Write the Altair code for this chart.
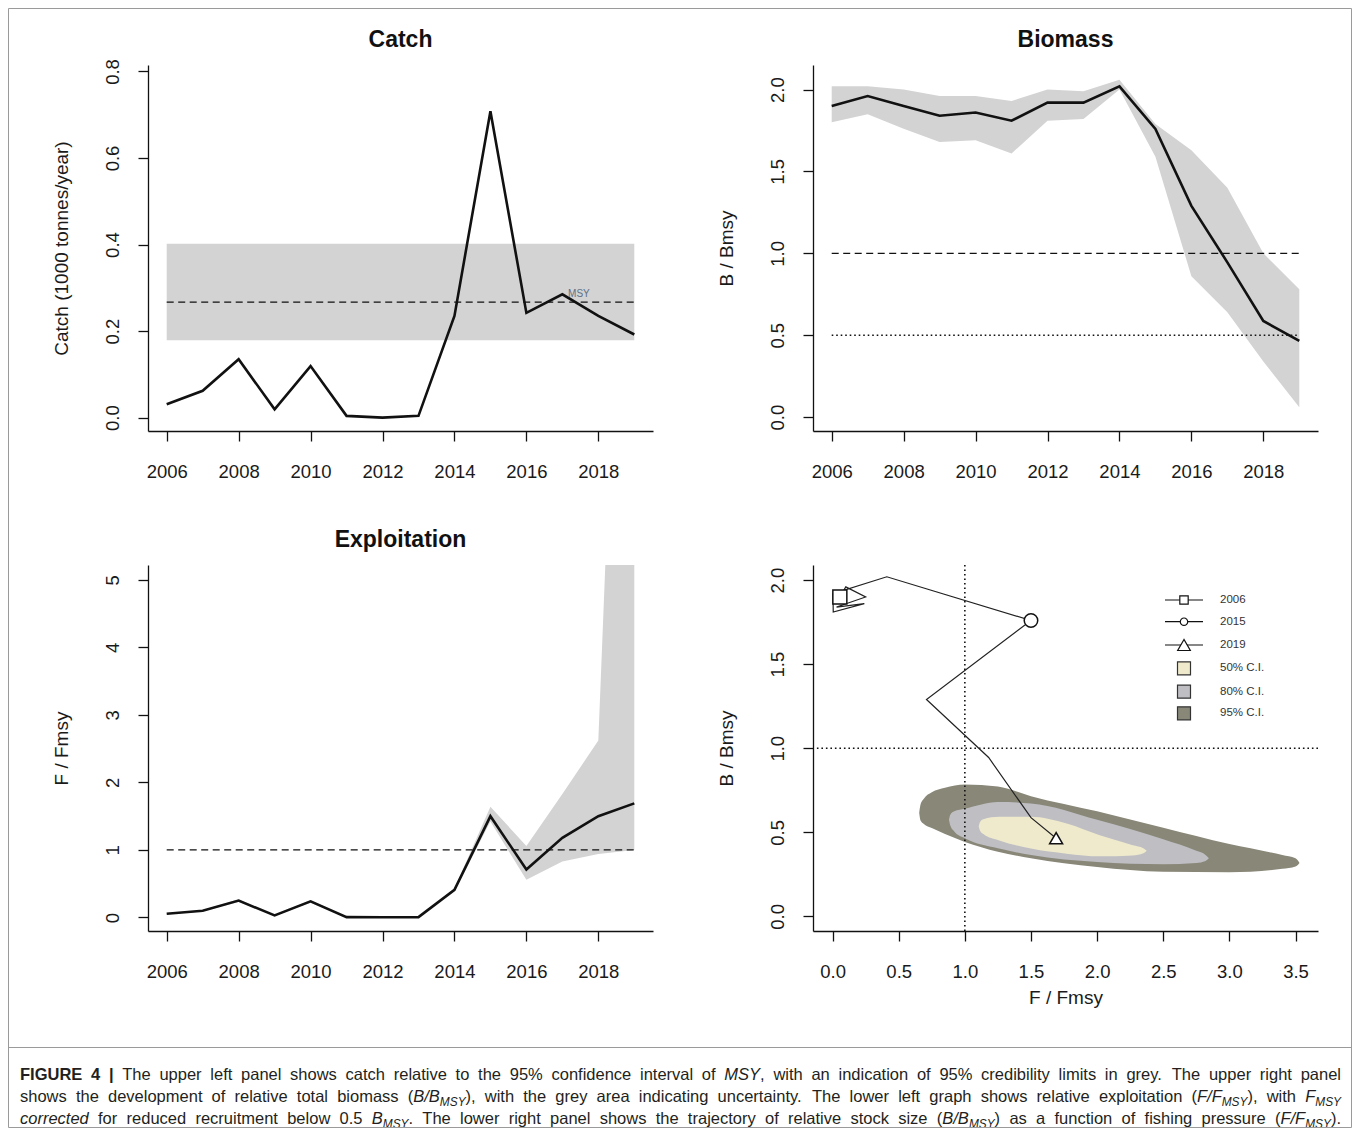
import altair as alt
import pandas as pd

# ---------------- data ----------------
years = [2006, 2007, 2008, 2009, 2010, 2011, 2012, 2013, 2014, 2015, 2016, 2017, 2018, 2019]
catch = [0.031, 0.062, 0.135, 0.019, 0.119, 0.004, 0.0, 0.004, 0.235, 0.708, 0.242, 0.285, 0.235, 0.192]
catch_msy = 0.267
catch_msy_lo = 0.179
catch_msy_hi = 0.402

bbmsy = [1.90, 1.96, 1.90, 1.84, 1.86, 1.81, 1.92, 1.92, 2.02, 1.76, 1.29, 0.945, 0.587, 0.465]
bbmsy_lo = [1.80, 1.85, 1.76, 1.68, 1.69, 1.61, 1.81, 1.82, 2.00, 1.59, 0.86, 0.64, 0.34, 0.06]
bbmsy_hi = [2.02, 2.02, 2.00, 1.96, 1.96, 1.93, 2.00, 1.99, 2.06, 1.79, 1.63, 1.40, 1.00, 0.78]

ffmsy = [0.055, 0.10, 0.25, 0.03, 0.24, 0.005, 0.003, 0.005, 0.41, 1.50, 0.71, 1.18, 1.50, 1.69]
ffmsy_lo = [0.05, 0.09, 0.23, 0.027, 0.22, 0.004, 0.002, 0.004, 0.39, 1.42, 0.56, 0.83, 0.94, 1.00]
ffmsy_hi = [0.06, 0.11, 0.27, 0.035, 0.26, 0.006, 0.004, 0.006, 0.43, 1.64, 1.06, 1.83, 2.62, 16.0]

ci95_f = [0.655, 0.665, 0.69, 0.75, 0.85, 1.0, 1.25, 1.5, 2.0, 2.5, 3.0, 3.4, 3.50, 3.53]
ci95_up = [0.615, 0.665, 0.70, 0.738, 0.765, 0.785, 0.772, 0.715, 0.625, 0.527, 0.43, 0.365, 0.345, 0.318]
ci95_lo = [0.615, 0.57, 0.55, 0.525, 0.49, 0.443, 0.385, 0.345, 0.293, 0.265, 0.263, 0.283, 0.297, 0.318]

ci80_f = [0.88, 0.89, 0.92, 1.0, 1.25, 1.5, 2.0, 2.5, 2.75, 2.82, 2.845]
ci80_up = [0.575, 0.605, 0.625, 0.64, 0.68, 0.672, 0.575, 0.458, 0.39, 0.365, 0.345]
ci80_lo = [0.575, 0.54, 0.505, 0.465, 0.405, 0.365, 0.323, 0.31, 0.318, 0.33, 0.345]

ci50_f = [1.105, 1.115, 1.14, 1.26, 1.5, 1.77, 2.02, 2.27, 2.35, 2.375]
ci50_up = [0.535, 0.562, 0.578, 0.592, 0.592, 0.552, 0.482, 0.423, 0.405, 0.39]
ci50_lo = [0.535, 0.51, 0.49, 0.452, 0.403, 0.373, 0.357, 0.362, 0.375, 0.39]

marker_years = ["2006", "2015", "2019"]
ci_labels = ["50% C.I.", "80% C.I.", "95% C.I."]
panel_titles = ["Catch", "Biomass", "Exploitation"]

year_ticks = [2006, 2008, 2010, 2012, 2014, 2016, 2018]
catch_ticks = [0.0, 0.2, 0.4, 0.6, 0.8]
bio_ticks = [0.0, 0.5, 1.0, 1.5, 2.0]
f_ticks = [0, 1, 2, 3, 4, 5]
kobe_x_ticks = [0.0, 0.5, 1.0, 1.5, 2.0, 2.5, 3.0, 3.5]
kobe_y_ticks = [0.0, 0.5, 1.0, 1.5, 2.0]

caption_lines = [
    [("FIGURE 4 |", "bold"),
     (" The upper left panel shows catch relative to the 95% confidence interval of ", "reg"),
     ("MSY", "ital"),
     (", with an indication of 95% credibility limits in grey. The upper right panel", "reg")],
    [("shows the development of relative total biomass (", "reg"), ("B/B", "ital"), ("MSY", "sub"),
     ("), with the grey area indicating uncertainty. The lower left graph shows relative exploitation (", "reg"),
     ("F/F", "ital"), ("MSY", "sub"), ("), with ", "reg"), ("F", "ital"), ("MSY", "sub")],
    [("corrected", "ital"), (" for reduced recruitment below 0.5 ", "reg"), ("B", "ital"), ("MSY", "sub"),
     (". The lower right panel shows the trajectory of relative stock size (", "reg"), ("B/B", "ital"), ("MSY", "sub"),
     (") as a function of fishing pressure (", "reg"), ("F/F", "ital"), ("MSY", "sub"), (").", "reg")],
]

# ---------------- layout / style ----------------
W, H = 505, 366
FONT = "Liberation Sans"
BLACK = "#111111"
BAND = "#d3d3d3"
CI_COLORS = ["#f0eacd", "#bebec3", "#898778"]
FRAME = "#9a9a9a"
XDOM = [2005.48, 2019.52]

CAP_LEFT, CAP_RIGHT = 20, 1341
caption_y = [1079.5, 1102, 1123.5]
SUB_SCALE = 0.72
KOBE_ORIGIN = (813, 565)
frame_box = (8.5, 8.5, 1351.5, 1127.5)   # page px (left, top, right, bottom)
caption_rule_y = 1047.5

# Arial / Liberation Sans advance widths (1/1000 em) used to lay out the caption
W_REG = {' ': 278, '%': 889, '(': 333, ')': 333, ',': 278, '-': 333, '.': 278, '/': 278, '|': 260,
         'A': 667, 'B': 667, 'C': 722, 'D': 722, 'E': 667, 'F': 611, 'G': 778, 'H': 722, 'I': 278, 'J': 500,
         'K': 667, 'L': 556, 'M': 833, 'N': 722, 'O': 778, 'P': 667, 'Q': 778, 'R': 722, 'S': 667, 'T': 611,
         'U': 722, 'V': 667, 'W': 944, 'X': 667, 'Y': 667, 'Z': 611,
         'a': 556, 'b': 556, 'c': 500, 'd': 556, 'e': 556, 'f': 278, 'g': 556, 'h': 556, 'i': 222, 'j': 222,
         'k': 500, 'l': 222, 'm': 833, 'n': 556, 'o': 556, 'p': 556, 'q': 556, 'r': 333, 's': 500, 't': 278,
         'u': 556, 'v': 500, 'w': 722, 'x': 500, 'y': 500, 'z': 500}
W_BOLD = {' ': 278, '|': 280, 'F': 611, 'I': 278, 'G': 778, 'U': 722, 'R': 722, 'E': 667}


def glyph_w(ch, sty):
    if sty == "bold":
        return W_BOLD.get(ch, 556) / 1000.0
    return W_REG.get(ch, 556) / 1000.0


XAX = dict(labelBaseline="middle", labelAlign="center", labelAngle=0, labelPadding=30)
YAX = dict(labelAngle=270, labelAlign="center", labelBaseline="middle", labelPadding=26,
           titleAngle=270, titleAlign="center", titleBaseline="middle", titleX=-87, titleY=H / 2)

ts = pd.DataFrame({
    "year": years, "catch": catch,
    "msy": [catch_msy] * len(years), "msy_lo": [catch_msy_lo] * len(years), "msy_hi": [catch_msy_hi] * len(years),
    "b": bbmsy, "b_lo": bbmsy_lo, "b_hi": bbmsy_hi,
    "f": ffmsy, "f_lo": ffmsy_lo, "f_hi": ffmsy_hi,
    "one": [1.0] * len(years), "half": [0.5] * len(years),
})
ts["yr"] = ts["year"].astype(str)
one = pd.DataFrame({"k": [0]})


def xyear():
    return alt.X("year:Q", scale=alt.Scale(domain=XDOM, nice=False, zero=False),
                 axis=alt.Axis(values=year_ticks, format="d", title=None, **XAX))


def yq(field, dom, ticks, fmt, title):
    return alt.Y(field, type="quantitative", scale=alt.Scale(domain=dom, nice=False, zero=False),
                 axis=alt.Axis(values=ticks, format=fmt, title=title, **YAX))


def title_layer(txt):
    return alt.Chart(one).mark_text(font=FONT, fontSize=23, fontWeight="bold", color=BLACK,
                                    align="center", baseline="middle").encode(
        x=alt.value(W / 2), y=alt.value(-25), text=alt.value(txt))


base = alt.Chart(ts)

# ---- Catch ----
CDOM = [-0.031, 0.815]
ytitle_c = "Catch (1000 tonnes/year)"
catch_chart = alt.layer(
    base.mark_area(color=BAND).encode(x=xyear(), y=yq("msy_lo", CDOM, catch_ticks, ".1f", ytitle_c), y2="msy_hi:Q"),
    base.mark_line(color=BLACK, strokeDash=[7, 4.5], strokeWidth=1.3).encode(
        x=xyear(), y=yq("msy", CDOM, catch_ticks, ".1f", ytitle_c)),
    base.mark_line(color=BLACK, strokeWidth=2.6).encode(x=xyear(), y=yq("catch", CDOM, catch_ticks, ".1f", ytitle_c)),
    alt.Chart(pd.DataFrame({"year": [2017.46], "v": [0.286], "t": ["MSY"]})).mark_text(
        font=FONT, fontSize=10, color="#5f6f86", align="center", baseline="middle").encode(
        x=xyear(), y=yq("v", CDOM, catch_ticks, ".1f", ytitle_c), text="t:N"),
    title_layer(panel_titles[0]),
).properties(width=W, height=H)

# ---- Biomass ----
BDOM = [-0.085, 2.15]
yt_b = "B / Bmsy"
bio_chart = alt.layer(
    base.mark_area(color=BAND).encode(x=xyear(), y=yq("b_lo", BDOM, bio_ticks, ".1f", yt_b), y2="b_hi:Q"),
    base.mark_line(color=BLACK, strokeDash=[7, 4.5], strokeWidth=1.3).encode(x=xyear(), y=yq("one", BDOM, bio_ticks, ".1f", yt_b)),
    base.mark_line(color=BLACK, strokeDash=[1.6, 2.9], strokeWidth=1.6).encode(x=xyear(), y=yq("half", BDOM, bio_ticks, ".1f", yt_b)),
    base.mark_line(color=BLACK, strokeWidth=2.6).encode(x=xyear(), y=yq("b", BDOM, bio_ticks, ".1f", yt_b)),
    title_layer(panel_titles[1]),
).properties(width=W, height=H)

# ---- Exploitation ----
FDOM = [-0.2, 5.22]
yt_f = "F / Fmsy"
f_chart = alt.layer(
    base.mark_area(color=BAND, clip=True).encode(x=xyear(), y=yq("f_lo", FDOM, f_ticks, "d", yt_f), y2="f_hi:Q"),
    base.mark_line(color=BLACK, strokeDash=[7, 4.5], strokeWidth=1.3).encode(x=xyear(), y=yq("one", FDOM, f_ticks, "d", yt_f)),
    base.mark_line(color=BLACK, strokeWidth=2.6).encode(x=xyear(), y=yq("f", FDOM, f_ticks, "d", yt_f)),
    title_layer(panel_titles[2]),
).properties(width=W, height=H)

# ---- Kobe ----
KX = [-0.148, 3.67]
KY = [-0.087, 2.09]


def kx(field="F"):
    return alt.X(field, type="quantitative", scale=alt.Scale(domain=KX, nice=False, zero=False),
                 axis=alt.Axis(values=kobe_x_ticks, format=".1f", title="F / Fmsy",
                               titleX=W / 2, titleY=66, titleBaseline="middle", titleAlign="center", **XAX))


def ky(field="B"):
    return alt.Y(field, type="quantitative", scale=alt.Scale(domain=KY, nice=False, zero=False),
                 axis=alt.Axis(values=kobe_y_ticks, format=".1f", title="B / Bmsy", **YAX))


kobe_layers = []
for fs, ups, los, col in [(ci95_f, ci95_up, ci95_lo, CI_COLORS[2]),
                          (ci80_f, ci80_up, ci80_lo, CI_COLORS[1]),
                          (ci50_f, ci50_up, ci50_lo, CI_COLORS[0])]:
    d = pd.DataFrame({"F": fs, "B": ups, "B2": los})
    kobe_layers.append(alt.Chart(d).mark_area(color=col, interpolate="monotone").encode(
        x=kx(), y=ky(), y2="B2:Q"))

kobe_layers.append(alt.Chart(pd.DataFrame({"v": [1.0]})).mark_rule(
    color=BLACK, strokeDash=[1.6, 2.9], strokeWidth=1.6).encode(x=kx("v")))
kobe_layers.append(alt.Chart(pd.DataFrame({"v": [1.0]})).mark_rule(
    color=BLACK, strokeDash=[1.6, 2.9], strokeWidth=1.6).encode(y=ky("v")))

traj = ts.rename(columns={"f": "F", "b": "B"})
kobe_layers.append(alt.Chart(traj).mark_line(color="#222222", strokeWidth=1.2).encode(
    x=kx(), y=ky(), order="year:Q"))
kobe_layers.append(alt.Chart(traj[traj["yr"].isin(marker_years)]).mark_point(
    filled=True, fill="white", stroke=BLACK, strokeWidth=1.5, opacity=1).encode(
    x=kx(), y=ky(),
    shape=alt.Shape("yr:N", scale=alt.Scale(domain=marker_years, range=["square", "circle", "triangle-up"]), legend=None),
    size=alt.Size("yr:N", scale=alt.Scale(domain=marker_years, range=[196, 169, 440]), legend=None)))

# ---- manual legend (panel pixel coordinates) ----
leg_rows_y = [35, 56.7, 80, 103.3, 126.7, 148.3]
leg_line_x = (352, 390)
leg_sym_x = 371
leg_text_x = 407
leg_shapes = ["square", "circle", "triangle-up"]
leg_sizes = [70, 55, 160]
for i, lab in enumerate(marker_years + ci_labels):
    yv = leg_rows_y[i]
    if i < 3:
        kobe_layers.append(alt.Chart(one).mark_rule(color=BLACK, strokeWidth=1.2).encode(
            x=alt.value(leg_line_x[0]), x2=alt.value(leg_line_x[1]), y=alt.value(yv)))
        kobe_layers.append(alt.Chart(one).mark_point(
            shape=leg_shapes[i], size=leg_sizes[i], filled=True, fill="white", stroke=BLACK,
            strokeWidth=1.2, opacity=1).encode(x=alt.value(leg_sym_x), y=alt.value(yv)))
    else:
        kobe_layers.append(alt.Chart(one).mark_point(
            shape="square", size=169, filled=True, fill=CI_COLORS[i - 3], stroke="#333333",
            strokeWidth=1.2, opacity=1).encode(x=alt.value(leg_sym_x), y=alt.value(yv)))
    kobe_layers.append(alt.Chart(one).mark_text(
        font=FONT, fontSize=11.5, color="#333333", align="left", baseline="middle").encode(
        x=alt.value(leg_text_x), y=alt.value(yv), text=alt.value(lab)))

# ---- caption: justified word layout (page px converted to panel px) ----
ox, oy = KOBE_ORIGIN
line_items = []
for segs in caption_lines:
    items = []
    for txt, sty in segs:
        parts = txt.split(" ")
        for j, p in enumerate(parts):
            if j > 0:
                items.append(("space", " ", sty))
            if p:
                items.append(("run", p, sty))
    line_items.append(items)


def item_w(kind, txt, sty, size):
    s = size * SUB_SCALE if sty == "sub" else size
    return sum(glyph_w(c, sty) for c in txt) * s


target = CAP_RIGHT - CAP_LEFT
nat1 = [sum(item_w(k, t, s, 1.0) for k, t, s in items) for items in line_items]
cap_size = min(16.5, min(target / n for n in nat1) * 0.99)

for li, items in enumerate(line_items):
    n_sp = sum(1 for k, _, _ in items if k == "space")
    slack = target - nat1[li] * cap_size
    extra = slack / n_sp if n_sp else 0
    xcur = CAP_LEFT
    for kind, txt, sty in items:
        w = item_w(kind, txt, sty, cap_size)
        if kind == "space":
            xcur += w + extra
            continue
        kw = dict(font=FONT, fontSize=cap_size, color="#231f20", align="left", baseline="alphabetic")
        dy = 0
        if sty == "bold":
            kw.update(fontWeight="bold")
        elif sty == "ital":
            kw.update(fontStyle="italic")
        elif sty == "sub":
            kw.update(fontStyle="italic", fontSize=cap_size * SUB_SCALE)
            dy = 4
        kobe_layers.append(alt.Chart(one).mark_text(**kw).encode(
            x=alt.value(round(xcur - ox, 2)), y=alt.value(caption_y[li] + dy - oy), text=alt.value(txt)))
        xcur += w

# ---- figure frame and caption divider (page px converted to panel px) ----
fl, ft, fr, fb = frame_box
for (x1, y1, x2, y2) in [(fl, ft, fr, ft), (fl, fb, fr, fb), (fl, ft, fl, fb), (fr, ft, fr, fb),
                         (fl, caption_rule_y, fr, caption_rule_y)]:
    kobe_layers.append(alt.Chart(one).mark_rule(color=FRAME, strokeWidth=1).encode(
        x=alt.value(x1 - ox), x2=alt.value(x2 - ox), y=alt.value(y1 - oy), y2=alt.value(y2 - oy)))

# anchor for page placement (invisible)
kobe_layers.append(alt.Chart(one).mark_rect(opacity=0).encode(
    x=alt.value(8 - ox), x2=alt.value(1351 - ox), y=alt.value(8 - oy), y2=alt.value(1120 - oy)))

kobe_chart = alt.layer(*kobe_layers).properties(width=W, height=H)

grid = alt.ConcatChart(
    concat=[catch_chart, bio_chart, f_chart, kobe_chart], columns=2,
    spacing={"row": 134, "column": 160}, bounds="flush",
)

chart = grid.properties(padding=0).configure_view(stroke=None).configure_axis(
    grid=False, domainColor=BLACK, tickColor=BLACK, domainWidth=1.3, tickWidth=1.3, tickSize=10,
    labelFont=FONT, labelFontSize=18.5, labelColor="#1a1a1a", labelOverlap=False, labelFlush=False,
    titleFont=FONT, titleFontSize=19, titleFontWeight="normal", titleColor="#1a1a1a",
)

chart.save("out.html", embed_options={"renderer": "svg", "actions": False})
